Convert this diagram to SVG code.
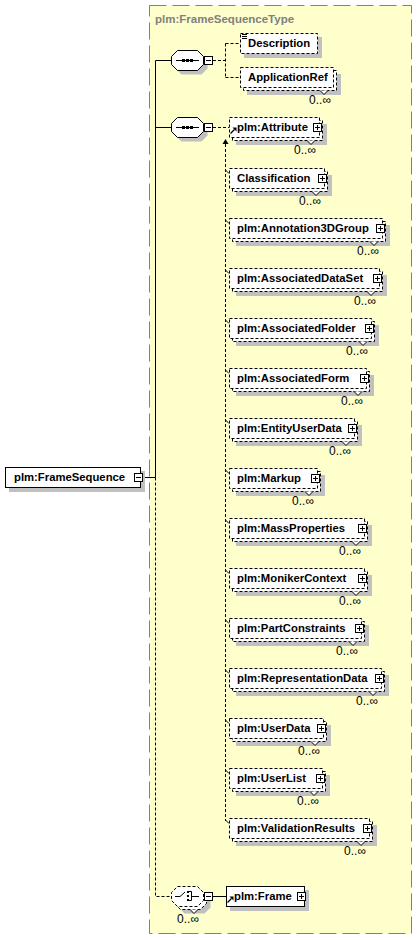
<svg xmlns="http://www.w3.org/2000/svg" xmlns:xlink="http://www.w3.org/1999/xlink" width="418" height="940" viewBox="0 0 418 940">
<style>
.t{font-family:"Liberation Sans",Arial,sans-serif;font-weight:bold;font-size:11.3px;fill:#000}
.title{font-family:"Liberation Sans",Arial,sans-serif;font-weight:bold;font-size:11.5px;fill:#808080}
.c{font-family:"Liberation Sans",Arial,sans-serif;font-size:12px;fill:#000}
.sh{fill:#c0c0c0;stroke:none}
.eb{fill:#fff;stroke:#000;stroke-width:1}
.d{stroke-dasharray:3,2}
.nt{fill:#fff;stroke:#000;stroke-width:1}
.ln{fill:none;stroke:#000;stroke-width:1}
.dl{fill:none;stroke:#000;stroke-width:1;stroke-dasharray:3,2}
</style>
<defs>
<g id="plus"><rect x="0.5" y="0.5" width="8" height="8" fill="#fff" stroke="#000"/><path d="M2,4.5H7M4.5,2V7" stroke="#000" fill="none"/></g>
<g id="minus"><rect x="0.5" y="0.5" width="8" height="8" fill="#fff" stroke="#000"/><path d="M2,4.5H7" stroke="#000" fill="none"/></g>
<path id="oct" d="M6.5,0.5H26.5L32.5,6.5V14.5L26.5,20.5H6.5L0.5,14.5V6.5Z"/>
<g id="ref"><path d="M0.5,6.5L4.5,2.5" stroke="#000" stroke-width="1.3" fill="none"/><polygon points="2.5,0.5 6.5,0.5 6.5,4.5" fill="#000"/></g>
</defs>

<rect x="149.5" y="5.5" width="262" height="928" fill="#ffffcc" stroke="#808080" stroke-dasharray="17,6"/>
<text class="title" x="155" y="23">plm:FrameSequenceType</text>

<g id="connectors">
<path class="ln" d="M142,477.5H155.5M155.5,60.5V477.5M155.5,60.5H171M155.5,127.5H171"/>
<path class="dl" d="M155.5,477.5V896.5H171"/>
<path class="dl" d="M213,60.5H225.5M225.5,43.5V77.5M225.5,43.5H240M225.5,77.5H240"/>
<path class="dl" d="M213,127.5H229"/>
<path class="ln" d="M213,896.5H226"/>
<polygon points="222.5,144 225.5,139 228.5,144" fill="#000"/>
<path class="dl" d="M225.5,144V821"/>
<path class="ln" d="M225.5,170L229,173.5M225.5,220L229,223.5M225.5,270L229,273.5M225.5,320L229,323.5M225.5,370L229,373.5M225.5,420L229,423.5M225.5,470L229,473.5M225.5,520L229,523.5M225.5,570L229,573.5M225.5,620L229,623.5M225.5,670L229,673.5M225.5,720L229,723.5M225.5,770L229,773.5M225.5,820L229,823.5"/>
</g>

<g id="FrameSequence">
<rect class="sh" x="9" y="471" width="136" height="21"/>
<rect class="eb" x="5.5" y="467.5" width="135" height="20"/>
<text class="t" x="14" y="481">plm:FrameSequence</text>
<use xlink:href="#minus" x="134" y="473"/>
</g>

<g id="sequence1">
<use xlink:href="#oct" transform="translate(175,54)" class="sh"/>
<use xlink:href="#oct" transform="translate(171,50)" fill="#fff" stroke="#000"/>
<path class="ln" d="M176,60.5H199"/>
<rect x="182" y="59" width="3" height="3" fill="#000"/><rect x="186" y="59" width="3" height="3" fill="#000"/><rect x="190" y="59" width="3" height="3" fill="#000"/>
<use xlink:href="#minus" x="204" y="56"/>
</g>

<g id="Description">
<rect class="sh" x="244" y="37" width="78" height="21"/>
<rect class="eb d" x="240.5" y="33.5" width="77" height="20"/>
<path class="ln" d="M242,34.5H247M242,36.5H247M242,38.5H247"/>
<text class="t" x="248" y="47">Description</text>
</g>

<g id="ApplicationRef">
<rect class="sh" x="247" y="74" width="94" height="21"/>
<rect class="eb d" x="243.5" y="70.5" width="93" height="20"/>
<polyline class="nt" points="320,90.5 324,94.5 328,90.5"/>
<rect class="eb d" x="240.5" y="67.5" width="93" height="20"/>
<text class="t" x="248" y="81">ApplicationRef</text>
<text class="c" x="331" y="104" text-anchor="end">0..∞</text>
</g>

<g id="sequence2">
<use xlink:href="#oct" transform="translate(175,121)" class="sh"/>
<use xlink:href="#oct" transform="translate(171,117)" fill="#fff" stroke="#000"/>
<path class="ln" d="M176,127.5H199"/>
<rect x="182" y="126" width="3" height="3" fill="#000"/><rect x="186" y="126" width="3" height="3" fill="#000"/><rect x="190" y="126" width="3" height="3" fill="#000"/>
<use xlink:href="#minus" x="204" y="123"/>
</g>

<g id="Attribute">
<rect class="sh" x="236" y="124" width="91" height="21"/>
<rect class="eb d" x="232.5" y="120.5" width="90" height="20"/>
<polyline class="nt" points="307,140.5 311,144.5 315,140.5"/>
<rect class="eb d" x="229.5" y="117.5" width="90" height="20"/>
<use xlink:href="#ref" x="230" y="127"/>
<text class="t" x="237" y="131">plm:Attribute</text>
<use xlink:href="#plus" x="313" y="123"/>
<text class="c" x="316" y="154" text-anchor="end">0..∞</text>
</g>

<g id="Classification">
<rect class="sh" x="236" y="175" width="96" height="21"/>
<rect class="eb d" x="232.5" y="171.5" width="95" height="20"/>
<polyline class="nt" points="312,191.5 316,195.5 320,191.5"/>
<rect class="eb d" x="229.5" y="168.5" width="95" height="20"/>
<text class="t" x="237" y="182">Classification</text>
<use xlink:href="#plus" x="318" y="174"/>
<text class="c" x="321" y="205" text-anchor="end">0..∞</text>
</g>

<g id="Annotation3DGroup">
<rect class="sh" x="236" y="225" width="154" height="21"/>
<rect class="eb d" x="232.5" y="221.5" width="153" height="20"/>
<polyline class="nt" points="370,241.5 374,245.5 378,241.5"/>
<rect class="eb d" x="229.5" y="218.5" width="153" height="20"/>
<text class="t" x="237" y="232">plm:Annotation3DGroup</text>
<use xlink:href="#plus" x="376" y="224"/>
<text class="c" x="379" y="255" text-anchor="end">0..∞</text>
</g>

<g id="AssociatedDataSet">
<rect class="sh" x="236" y="275" width="151" height="21"/>
<rect class="eb d" x="232.5" y="271.5" width="150" height="20"/>
<polyline class="nt" points="367,291.5 371,295.5 375,291.5"/>
<rect class="eb d" x="229.5" y="268.5" width="150" height="20"/>
<text class="t" x="237" y="282">plm:AssociatedDataSet</text>
<use xlink:href="#plus" x="373" y="274"/>
<text class="c" x="376" y="305" text-anchor="end">0..∞</text>
</g>

<g id="AssociatedFolder">
<rect class="sh" x="236" y="325" width="143" height="21"/>
<rect class="eb d" x="232.5" y="321.5" width="142" height="20"/>
<polyline class="nt" points="359,341.5 363,345.5 367,341.5"/>
<rect class="eb d" x="229.5" y="318.5" width="142" height="20"/>
<text class="t" x="237" y="332">plm:AssociatedFolder</text>
<use xlink:href="#plus" x="365" y="324"/>
<text class="c" x="368" y="355" text-anchor="end">0..∞</text>
</g>

<g id="AssociatedForm">
<rect class="sh" x="236" y="375" width="138" height="21"/>
<rect class="eb d" x="232.5" y="371.5" width="137" height="20"/>
<polyline class="nt" points="354,391.5 358,395.5 362,391.5"/>
<rect class="eb d" x="229.5" y="368.5" width="137" height="20"/>
<text class="t" x="237" y="382">plm:AssociatedForm</text>
<use xlink:href="#plus" x="360" y="374"/>
<text class="c" x="363" y="405" text-anchor="end">0..∞</text>
</g>

<g id="EntityUserData">
<rect class="sh" x="236" y="425" width="126" height="21"/>
<rect class="eb d" x="232.5" y="421.5" width="125" height="20"/>
<polyline class="nt" points="342,441.5 346,445.5 350,441.5"/>
<rect class="eb d" x="229.5" y="418.5" width="125" height="20"/>
<text class="t" x="237" y="432">plm:EntityUserData</text>
<use xlink:href="#plus" x="348" y="424"/>
<text class="c" x="351" y="455" text-anchor="end">0..∞</text>
</g>

<g id="Markup">
<rect class="sh" x="236" y="475" width="89" height="21"/>
<rect class="eb d" x="232.5" y="471.5" width="88" height="20"/>
<polyline class="nt" points="305,491.5 309,495.5 313,491.5"/>
<rect class="eb d" x="229.5" y="468.5" width="88" height="20"/>
<text class="t" x="237" y="482">plm:Markup</text>
<use xlink:href="#plus" x="311" y="474"/>
<text class="c" x="314" y="505" text-anchor="end">0..∞</text>
</g>

<g id="MassProperties">
<rect class="sh" x="236" y="525" width="136" height="21"/>
<rect class="eb d" x="232.5" y="521.5" width="135" height="20"/>
<polyline class="nt" points="352,541.5 356,545.5 360,541.5"/>
<rect class="eb d" x="229.5" y="518.5" width="135" height="20"/>
<text class="t" x="237" y="532">plm:MassProperties</text>
<use xlink:href="#plus" x="358" y="524"/>
<text class="c" x="361" y="555" text-anchor="end">0..∞</text>
</g>

<g id="MonikerContext">
<rect class="sh" x="236" y="575" width="136" height="21"/>
<rect class="eb d" x="232.5" y="571.5" width="135" height="20"/>
<polyline class="nt" points="352,591.5 356,595.5 360,591.5"/>
<rect class="eb d" x="229.5" y="568.5" width="135" height="20"/>
<text class="t" x="237" y="582">plm:MonikerContext</text>
<use xlink:href="#plus" x="358" y="574"/>
<text class="c" x="361" y="605" text-anchor="end">0..∞</text>
</g>

<g id="PartConstraints">
<rect class="sh" x="236" y="625" width="133" height="21"/>
<rect class="eb d" x="232.5" y="621.5" width="132" height="20"/>
<polyline class="nt" points="349,641.5 353,645.5 357,641.5"/>
<rect class="eb d" x="229.5" y="618.5" width="132" height="20"/>
<text class="t" x="237" y="632">plm:PartConstraints</text>
<use xlink:href="#plus" x="355" y="624"/>
<text class="c" x="358" y="655" text-anchor="end">0..∞</text>
</g>

<g id="RepresentationData">
<rect class="sh" x="236" y="675" width="153" height="21"/>
<rect class="eb d" x="232.5" y="671.5" width="152" height="20"/>
<polyline class="nt" points="369,691.5 373,695.5 377,691.5"/>
<rect class="eb d" x="229.5" y="668.5" width="152" height="20"/>
<text class="t" x="237" y="682">plm:RepresentationData</text>
<use xlink:href="#plus" x="375" y="674"/>
<text class="c" x="378" y="705" text-anchor="end">0..∞</text>
</g>

<g id="UserData">
<rect class="sh" x="236" y="725" width="95" height="21"/>
<rect class="eb d" x="232.5" y="721.5" width="94" height="20"/>
<polyline class="nt" points="311,741.5 315,745.5 319,741.5"/>
<rect class="eb d" x="229.5" y="718.5" width="94" height="20"/>
<text class="t" x="237" y="732">plm:UserData</text>
<use xlink:href="#plus" x="317" y="724"/>
<text class="c" x="320" y="755" text-anchor="end">0..∞</text>
</g>

<g id="UserList">
<rect class="sh" x="236" y="775" width="94" height="21"/>
<rect class="eb d" x="232.5" y="771.5" width="93" height="20"/>
<polyline class="nt" points="310,791.5 314,795.5 318,791.5"/>
<rect class="eb d" x="229.5" y="768.5" width="93" height="20"/>
<text class="t" x="237" y="782">plm:UserList</text>
<use xlink:href="#plus" x="316" y="774"/>
<text class="c" x="319" y="805" text-anchor="end">0..∞</text>
</g>

<g id="ValidationResults">
<rect class="sh" x="236" y="825" width="141" height="21"/>
<rect class="eb d" x="232.5" y="821.5" width="140" height="20"/>
<polyline class="nt" points="357,841.5 361,845.5 365,841.5"/>
<rect class="eb d" x="229.5" y="818.5" width="140" height="20"/>
<text class="t" x="237" y="832">plm:ValidationResults</text>
<use xlink:href="#plus" x="363" y="824"/>
<text class="c" x="366" y="855" text-anchor="end">0..∞</text>
</g>

<g id="choice">
<use xlink:href="#oct" transform="translate(178,893)" class="sh"/>
<use xlink:href="#oct" transform="translate(174,889)" fill="#fff" stroke="#000" stroke-dasharray="3,2"/>
<polyline class="nt" points="190,909.5 194,913.5 198,909.5"/>
<use xlink:href="#oct" transform="translate(171,886)" fill="#fff" stroke="#000" stroke-dasharray="3,2"/>
<path class="ln" d="M175,896.5H180L185,892"/>
<rect x="187" y="891" width="2" height="2" fill="#000"/><rect x="187" y="895" width="2" height="2" fill="#000"/><rect x="187" y="899" width="2" height="2" fill="#000"/>
<path class="ln" d="M189,891.5H191.5V900.5H189M191.5,896.5H199"/>
<use xlink:href="#minus" x="204" y="892"/>
<text class="c" x="199" y="923" text-anchor="end">0..∞</text>
</g>

<g id="Frame">
<rect class="sh" x="230" y="890" width="79" height="21"/>
<rect class="eb" x="226.5" y="886.5" width="78" height="20"/>
<use xlink:href="#ref" x="227" y="896"/>
<text class="t" x="234" y="900">plm:Frame</text>
<use xlink:href="#plus" x="297" y="892"/>
</g>
</svg>
